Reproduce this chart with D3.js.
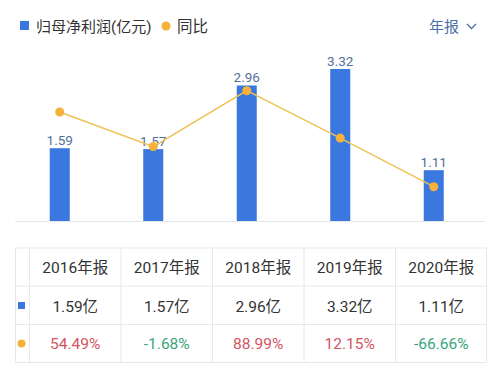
<!DOCTYPE html>
<meta charset="utf-8">
<script src="https://d3js.org/d3.v7.min.js"></script>
<style>
body { margin: 0; background: #fff; }
text { font-family: Roboto, "Noto Sans CJK SC", sans-serif; }
</style>
<body>
<div id="chart"></div>
<script>
// data
var years = ["2016年报", "2017年报", "2018年报", "2019年报", "2020年报"];
var profit = [1.59, 1.57, 2.96, 3.32, 1.11];
var yoy = [54.49, -1.68, 88.99, 12.15, -66.66];

var W = 500, H = 377;
var barColor = "#3a78e0", lineColor = "#eec255", dotColor = "#f5b13a";

var svg = d3.select("#chart").append("svg")
  .attr("width", W).attr("height", H);

// legend
svg.append("rect").attr("x", 20).attr("y", 21).attr("width", 9).attr("height", 9).attr("fill", barColor);
svg.append("text").attr("x", 36).attr("y", 31.5).attr("font-size", 15).attr("fill", "#333")
  .text("归母净利润(亿元)");
svg.append("circle").attr("cx", 166).attr("cy", 26).attr("r", 4.5).attr("fill", dotColor);
svg.append("text").attr("x", 177).attr("y", 31.5).attr("font-size", 15.5).attr("fill", "#333").text("同比");

// period switch
svg.append("text").attr("x", 429).attr("y", 31.5).attr("font-size", 15).attr("fill", "#4a6fa8").text("年报");
svg.append("path").attr("d", "M467,24 L471.5,28.5 L476,24").attr("fill", "none")
  .attr("stroke", "#4a6fa8").attr("stroke-width", 1.3);

// scales
var x = d3.scaleBand().domain(years).range([13, 480.5]).paddingInner(0.786).paddingOuter(0.393);
var y = d3.scaleLinear().domain([0, 3.32]).range([221, 69]);
var y2 = d3.scaleLinear().domain([-66.66, 88.99]).range([186.7, 90.7]);

// baseline
svg.append("line").attr("x1", 15).attr("x2", 485).attr("y1", 221.5).attr("y2", 221.5)
  .attr("stroke", "#e6e6e6").attr("stroke-width", 1);

// bars
svg.selectAll(".bar").data(profit).enter().append("rect")
  .attr("class", "bar")
  .attr("x", function(d, i) { return x(years[i]); })
  .attr("y", function(d) { return y(d); })
  .attr("width", x.bandwidth())
  .attr("height", function(d) { return y(0) - y(d); })
  .attr("fill", barColor);

svg.selectAll(".blabel").data(profit).enter().append("text")
  .attr("class", "blabel")
  .attr("x", function(d, i) { return x(years[i]) + x.bandwidth() / 2; })
  .attr("y", function(d) { return y(d) - 3; })
  .attr("text-anchor", "middle").attr("font-size", 13.5).attr("fill", "#52709a")
  .text(function(d) { return d.toFixed(2); });

// yoy line
var cx = function(d, i) { return x(years[i]) + x.bandwidth() / 2; };
var line = d3.line().x(cx).y(function(d) { return y2(d); });
svg.append("path").datum(yoy).attr("d", line).attr("fill", "none")
  .attr("stroke", lineColor).attr("stroke-width", 1.5);
svg.selectAll(".dot").data(yoy).enter().append("circle")
  .attr("cx", cx).attr("cy", function(d) { return y2(d); })
  .attr("r", 4.5).attr("fill", dotColor);

// table
var tx = d3.scaleBand().domain(years).range([29.5, 487]);
var rows = [248, 286, 324.5, 362.5];
var grid = "#e8e8e8";
svg.append("rect").attr("x", 15.5).attr("y", rows[0]).attr("width", 471).attr("height", rows[3] - rows[0])
  .attr("fill", "none").attr("stroke", grid);
[rows[1], rows[2]].forEach(function(r) {
  svg.append("line").attr("x1", 15.5).attr("x2", 486.5).attr("y1", r).attr("y2", r).attr("stroke", grid);
});
[29.5].concat(years.slice(1).map(function(d) { return tx(d); })).forEach(function(c) {
  svg.append("line").attr("x1", c).attr("x2", c).attr("y1", rows[0]).attr("y2", rows[3]).attr("stroke", grid);
});

var mid = function(d) { return tx(d) + tx.bandwidth() / 2; };
svg.selectAll(".hdr").data(years).enter().append("text")
  .attr("x", mid).attr("y", 273).attr("text-anchor", "middle")
  .attr("font-size", 15.5).attr("fill", "#333").text(function(d) { return d; });
svg.selectAll(".val").data(profit).enter().append("text")
  .attr("x", function(d, i) { return mid(years[i]); }).attr("y", 311.5)
  .attr("text-anchor", "middle").attr("font-size", 15.5).attr("fill", "#333")
  .text(function(d) { return d.toFixed(2) + "亿"; });
svg.selectAll(".pct").data(yoy).enter().append("text")
  .attr("x", function(d, i) { return mid(years[i]); }).attr("y", 349)
  .attr("text-anchor", "middle").attr("font-size", 15.5)
  .attr("fill", function(d) { return d >= 0 ? "#d2555f" : "#3aa57c"; })
  .text(function(d) { return d.toFixed(2) + "%"; });

svg.append("rect").attr("x", 18).attr("y", 302).attr("width", 7).attr("height", 7).attr("fill", barColor);
svg.append("circle").attr("cx", 21.5).attr("cy", 343.5).attr("r", 4).attr("fill", dotColor);
</script>
</body>
